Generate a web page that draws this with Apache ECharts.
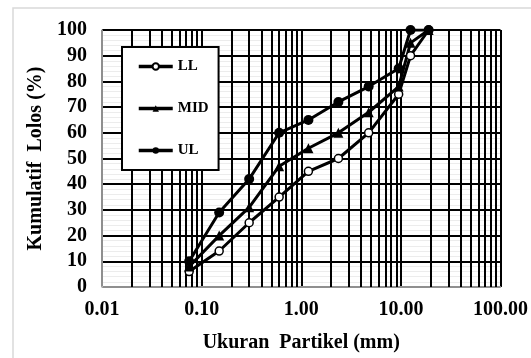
<!DOCTYPE html>
<html>
<head>
<meta charset="utf-8">
<style>
  html, body { margin: 0; padding: 0; background: #fff; }
  #chart { width: 531px; height: 358px; }
</style>
<script src="https://cdn.jsdelivr.net/npm/echarts@6/dist/echarts.min.js"></script>
</head>
<body>
<div id="chart"></div>
<script>
// Sieve sizes (mm) and cumulative passing (%) for the gradation envelope
const sieveSizes = [0.075, 0.15, 0.3, 0.6, 1.18, 2.36, 4.75, 9.5, 12.5, 19];
const passLL  = [6, 14, 25, 35, 45, 50, 60, 75, 90, 100];
const passMID = [8, 20, 31, 47, 54, 60, 68, 78, 95, 100];
const passUL  = [10, 29, 42, 60, 65, 72, 78, 85, 100, 100];

// Log-cycle grid lines inside each decade
const logGridValues = [];
[0.01, 0.1, 1, 10].forEach(function (d) {
  for (let k = 2; k <= 9; k++) logGridValues.push(+(d * k).toPrecision(3));
});

const font = '"Liberation Serif", "Times New Roman", serif';

function pairs(ys) {
  return sieveSizes.map(function (x, i) { return [x, ys[i]]; });
}

const chart = echarts.init(document.getElementById('chart'), null, { renderer: 'canvas' });

chart.setOption({
  animation: false,
  backgroundColor: '#fff',
  graphic: [{
    type: 'rect',
    shape: { x: 13, y: 8, width: 540, height: 380 },
    style: { fill: 'none', stroke: '#d9d9d9', lineWidth: 1.5 },
    silent: true, z: 0
  }],
  grid: { left: 102, top: 30, width: 400, height: 258 },
  legend: {
    data: ['LL', 'MID', 'UL'],
    orient: 'vertical',
    left: 122, top: 47,
    z: 10,
    padding: [12, 10, 12, 15],
    itemGap: 27,
    itemWidth: 34, itemHeight: 8,
    backgroundColor: '#fff',
    borderColor: '#000', borderWidth: 2,
    lineStyle: { width: 3.5 },
    textStyle: { fontFamily: font, fontWeight: 'bold', fontSize: 15, color: '#000' }
  },
  xAxis: {
    type: 'log',
    logBase: 10,
    min: 0.01, max: 100,
    name: 'Ukuran  Partikel (mm)',
    nameLocation: 'middle',
    nameGap: 46,
    nameTextStyle: { fontFamily: font, fontWeight: 'bold', fontSize: 20, color: '#000' },
    axisLine: { show: true, lineStyle: { color: '#bfbfbf', width: 1.5 } },
    axisTick: { show: false },
    axisLabel: {
      fontFamily: font, fontWeight: 'bold', fontSize: 20, color: '#000', margin: 13,
      formatter: function (v) { return Number(v).toFixed(2); }
    },
    splitLine: { show: true, lineStyle: { color: '#000', width: 2 } }
  },
  yAxis: {
    type: 'value',
    min: 0, max: 100, interval: 10,
    name: 'Kumulatif  Lolos (%)',
    nameLocation: 'middle',
    nameGap: 52,
    nameTextStyle: { fontFamily: font, fontWeight: 'bold', fontSize: 20, color: '#000' },
    axisLine: { show: true, lineStyle: { color: '#bfbfbf', width: 1.5 } },
    axisTick: { show: false },
    axisLabel: { fontFamily: font, fontWeight: 'bold', fontSize: 20, color: '#000', margin: 15 },
    splitLine: { show: true, lineStyle: { color: '#000', width: 2 } },
    minorTick: { show: false, splitNumber: 5 },
    minorSplitLine: { show: true, lineStyle: { color: '#ececec', width: 1 } }
  },
  series: [
    {
      name: 'grid',
      type: 'line',
      data: [[0.01, 0]],
      showSymbol: false,
      silent: true,
      z: 1,
      lineStyle: { opacity: 0 },
      markLine: {
        z: 1,
        silent: true,
        symbol: 'none',
        animation: false,
        label: { show: false },
        lineStyle: { color: '#000', width: 2, type: 'solid' },
        emphasis: { disabled: true },
        data: logGridValues.map(function (v) { return { xAxis: v }; })
      }
    },
    {
      name: 'LL',
      type: 'line',
      data: pairs(passLL),
      z: 3,
      symbol: 'circle', symbolSize: 8,
      lineStyle: { color: '#000', width: 3 },
      itemStyle: { color: '#fff', borderColor: '#000', borderWidth: 1.5 }
    },
    {
      name: 'MID',
      type: 'line',
      data: pairs(passMID),
      z: 3,
      symbol: 'triangle', symbolSize: 10,
      lineStyle: { color: '#000', width: 3 },
      itemStyle: { color: '#000' }
    },
    {
      name: 'UL',
      type: 'line',
      data: pairs(passUL),
      z: 3,
      symbol: 'circle', symbolSize: 10,
      lineStyle: { color: '#000', width: 3 },
      itemStyle: { color: '#000' }
    }
  ]
});
</script>
</body>
</html>
